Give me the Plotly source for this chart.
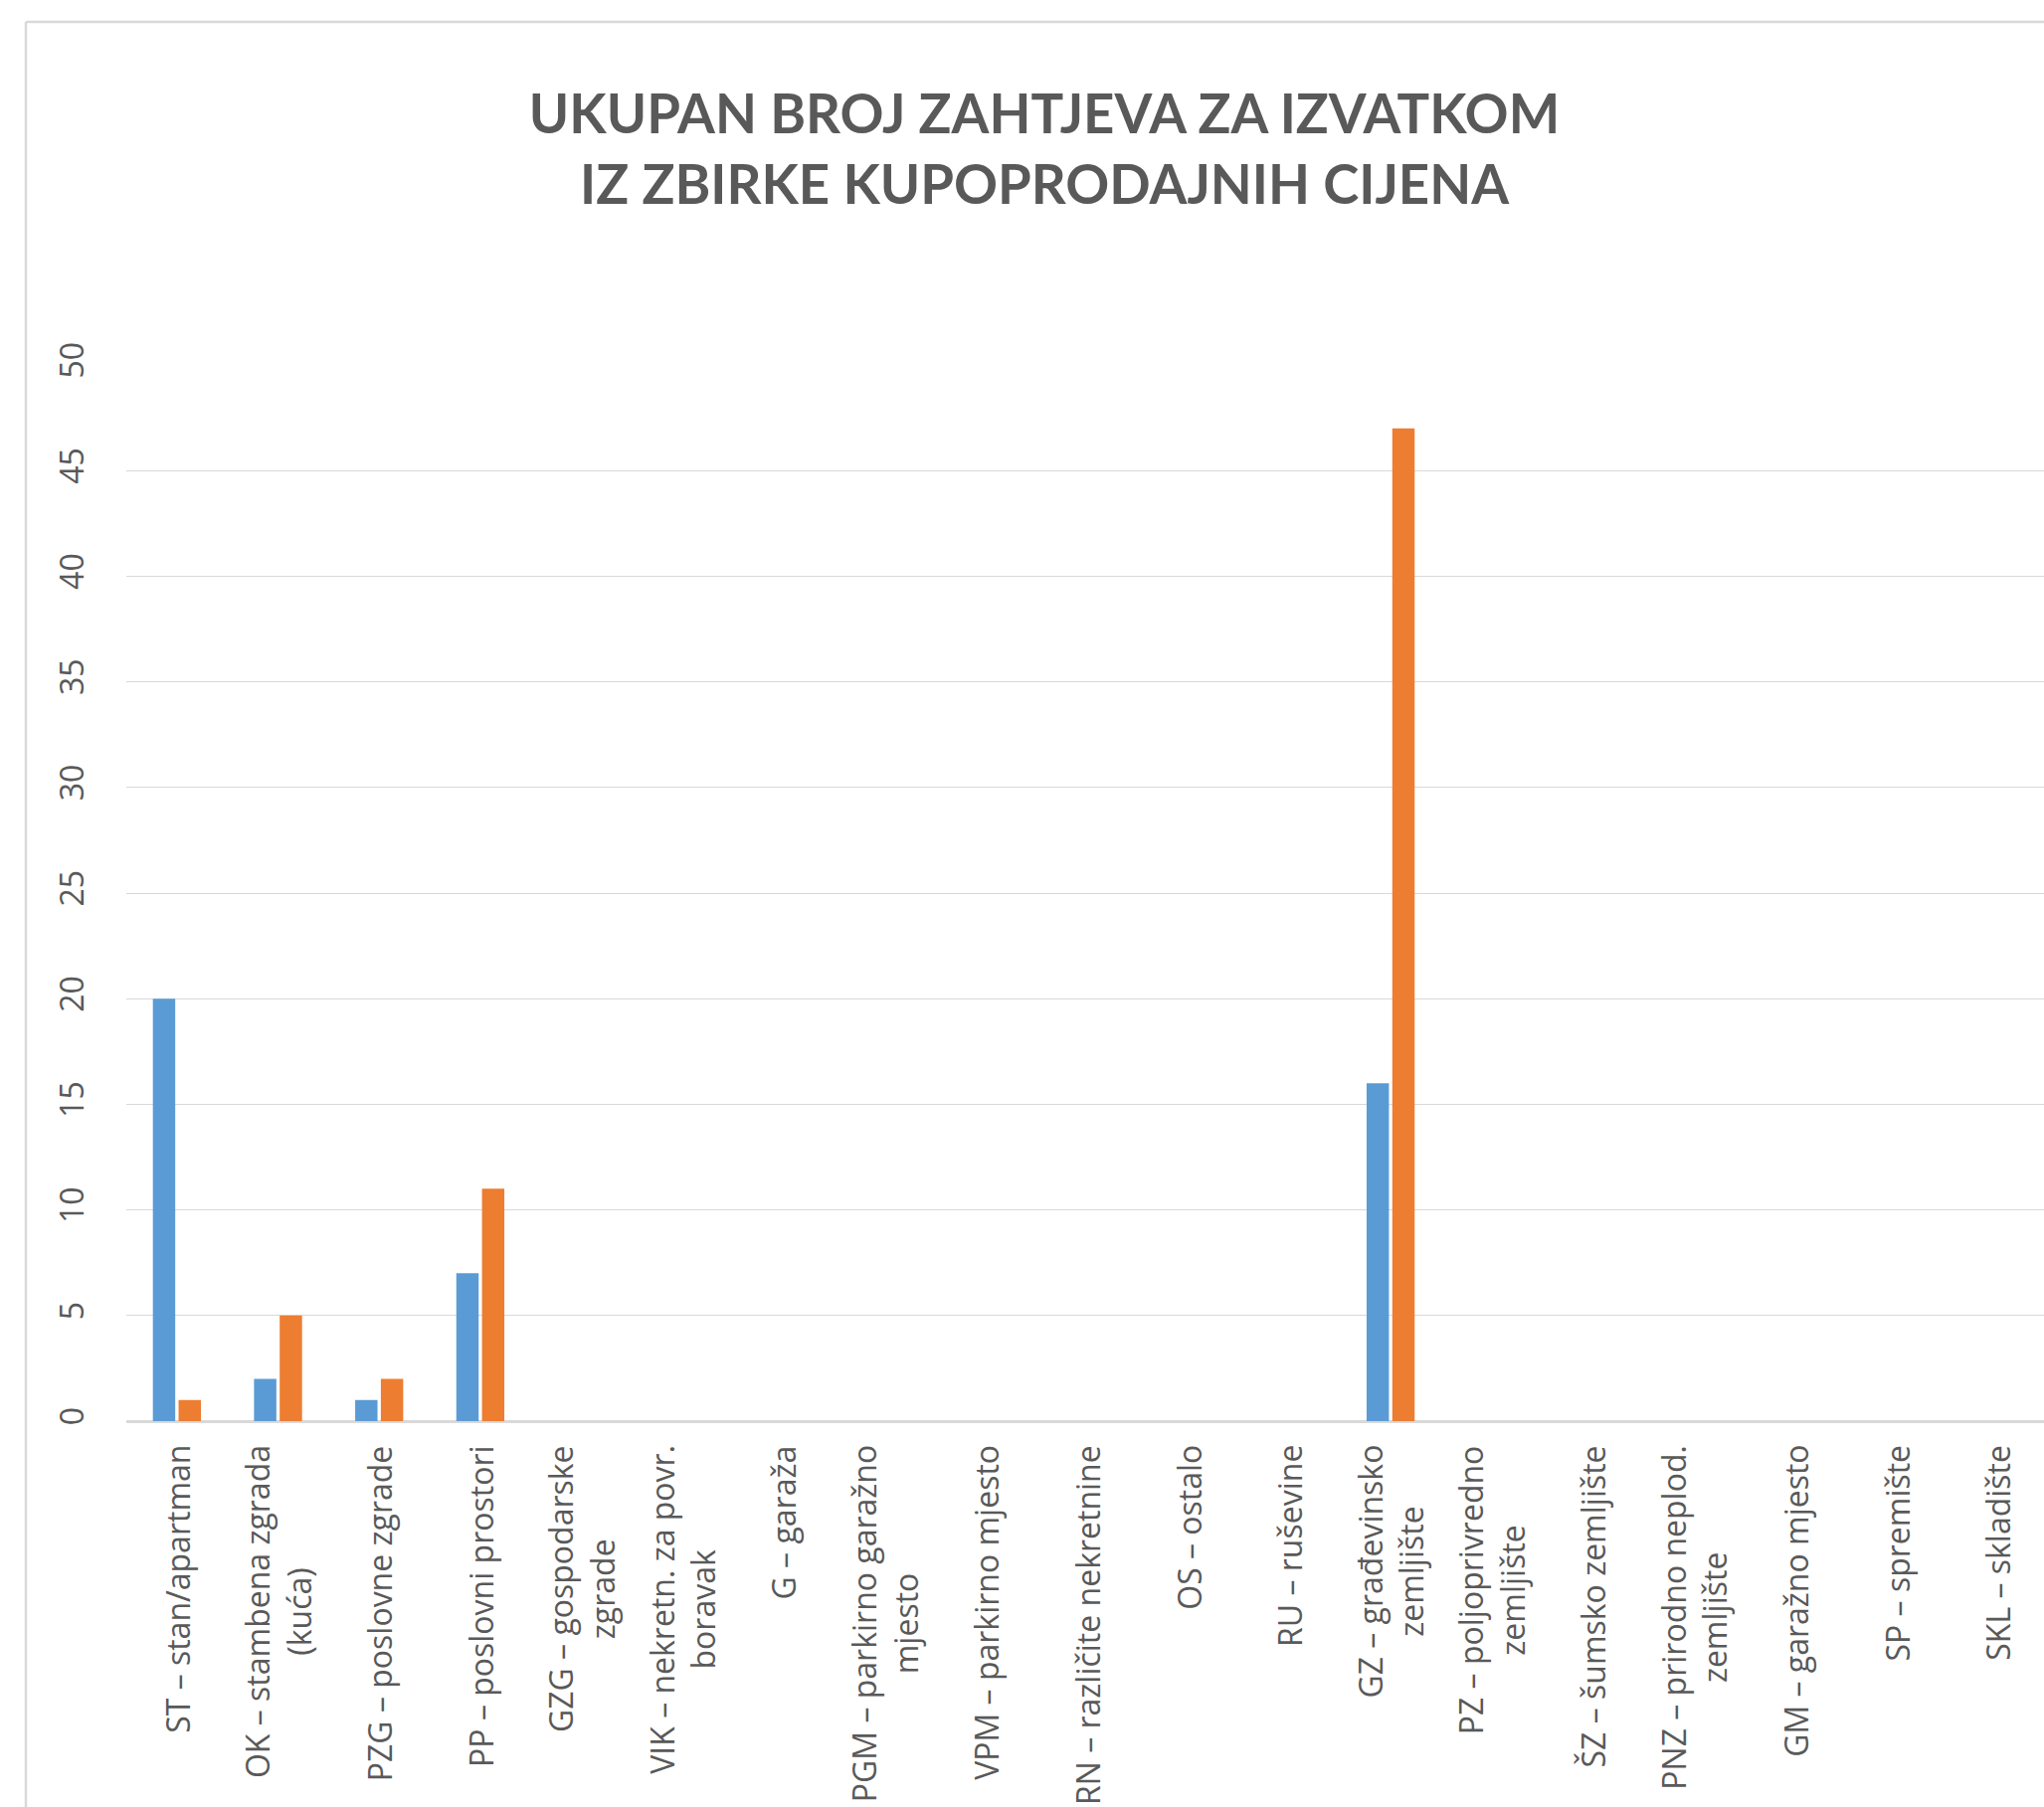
import plotly.graph_objects as go

# Property types (category codes) shown along the x axis
categories = [
    "ST", "OK", "PZG", "PP", "GZG", "VIK", "G", "PGM", "VPM", "RN",
    "OS", "RU", "GZ", "PZ", "ŠZ", "PNZ", "GM", "SP", "SKL",
]
tick_labels = [
    "ST – stan/apartman",
    "OK – stambena zgrada<br>(kuća)",
    "PZG – poslovne zgrade",
    "PP – poslovni prostori",
    "GZG – gospodarske<br>zgrade",
    "VIK – nekretn. za povr.<br>boravak",
    "G – garaža",
    "PGM – parkirno garažno<br>mjesto",
    "VPM – parkirno mjesto",
    "RN – različite nekretnine",
    "OS – ostalo",
    "RU – ruševine",
    "GZ – građevinsko<br>zemljište",
    "PZ – poljoprivredno<br>zemljište",
    "ŠZ – šumsko zemljište",
    "PNZ – prirodno neplod.<br>zemljište",
    "GM – garažno mjesto",
    "SP – spremište",
    "SKL – skladište",
]
series_1 = [20, 2, 1, 7, 0, 0, 0, 0, 0, 0, 0, 0, 16, 0, 0, 0, 0, 0, 0]
series_2 = [1, 5, 2, 11, 0, 0, 0, 0, 0, 0, 0, 0, 47, 0, 0, 0, 0, 0, 0]
y_ticks = [0, 5, 10, 15, 20, 25, 30, 35, 40, 45, 50]

title_text = "UKUPAN BROJ ZAHTJEVA ZA IZVATKOM<br>IZ ZBIRKE KUPOPRODAJNIH CIJENA"

BLUE = "#5B9BD5"
ORANGE = "#ED7D31"
TEXT = "#595959"
GRID = "#D9D9D9"
TICK_FONT = "Open Sans"

W, H = 2055, 1817
L, R, T, B = 127, 0, 367, 388
plot_w = W - L - R
plot_h = H - T - B

fig = go.Figure()
fig.add_trace(go.Bar(x=categories, y=series_1, name="Serija 1",
                     marker=dict(color=BLUE, line=dict(width=0))))
fig.add_trace(go.Bar(x=categories, y=series_2, name="Serija 2",
                     marker=dict(color=ORANGE, line=dict(width=0))))

# Wrapped, centred category labels under the axis
for cat, lab in zip(categories, tick_labels):
    fig.add_annotation(
        x=cat, y=0, xref="x", yref="y",
        text=lab, showarrow=False, textangle=-90,
        xanchor="center", yanchor="top", align="center",
        yshift=-22,
        font=dict(family=TICK_FONT, size=32, color=TEXT),
    )

# Outer chart frame (left and top edges)
def px_to_paper_x(px):
    return (px - L) / plot_w

def px_to_paper_y(py):
    return (H - B - py) / plot_h

fig.add_shape(type="line", xref="paper", yref="paper",
              x0=px_to_paper_x(26), x1=px_to_paper_x(26),
              y0=px_to_paper_y(22), y1=px_to_paper_y(H + 5),
              line=dict(color=GRID, width=2.5))
fig.add_shape(type="line", xref="paper", yref="paper",
              x0=px_to_paper_x(26), x1=px_to_paper_x(W + 5),
              y0=px_to_paper_y(22), y1=px_to_paper_y(22),
              line=dict(color=GRID, width=2.5))

fig.update_layout(
    width=W, height=H,
    margin=dict(l=L, r=R, t=T, b=B, pad=0),
    paper_bgcolor="white", plot_bgcolor="white",
    showlegend=False,
    barmode="group", bargap=0.492, bargroupgap=0.13,
    title=dict(
        text=title_text, x=1050 / W, xanchor="center", xref="container",
        y=1 - 134 / H, yanchor="top", yref="container",
        font=dict(family="Lato", size=54.5, color=TEXT, weight="bold"),
    ),
    xaxis=dict(
        type="category", range=[-0.5, 18.46],
        showticklabels=False, showgrid=False, zeroline=False,
        showline=False, ticks="",
    ),
    yaxis=dict(
        range=[0, 50], tickvals=y_ticks, tickangle=-90,
        showgrid=True, gridcolor=GRID, gridwidth=1.3,
        zeroline=True, zerolinecolor=GRID, zerolinewidth=2.5,
        showline=False, ticks="", ticklabelstandoff=36,
        tickfont=dict(family=TICK_FONT, size=32, color=TEXT),
    ),
)

fig.write_html("out.html")
